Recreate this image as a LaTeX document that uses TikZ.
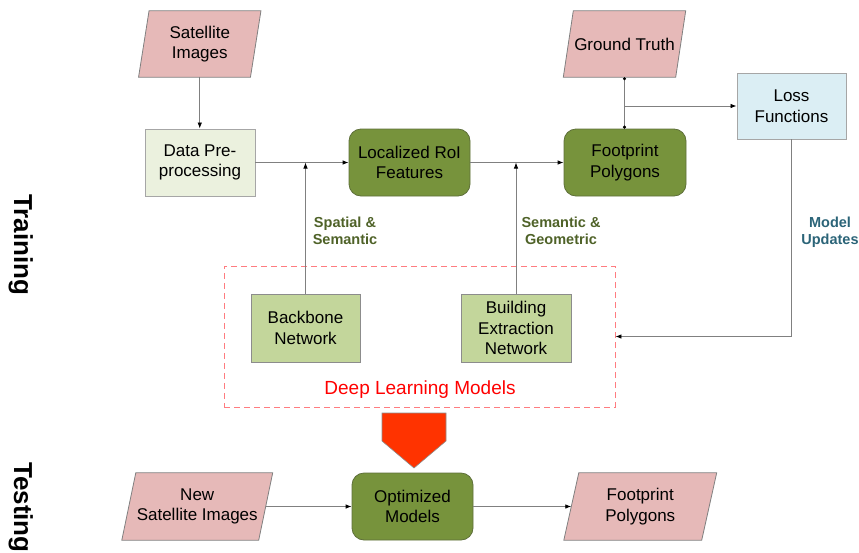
\documentclass[tikz,border=0pt]{standalone}
\usepackage{fontspec}
\setmainfont{Liberation Sans}
\usetikzlibrary{arrows.meta,calc}
\pgfdeclarelayer{background}
\pgfsetlayers{background,main}
\definecolor{cPink}{HTML}{E6B9B8}
\definecolor{cParaB}{HTML}{808080}
\definecolor{cLight}{HTML}{EBF1DE}
\definecolor{cLightB}{HTML}{A6A6A6}
\definecolor{cDark}{HTML}{77933C}
\definecolor{cDarkB}{HTML}{5E6F3A}
\definecolor{cMid}{HTML}{C3D69B}
\definecolor{cMidB}{HTML}{8C8C8C}
\definecolor{cBlue}{HTML}{DBEEF4}
\definecolor{cOlive}{HTML}{4F6228}
\definecolor{cTeal}{HTML}{2B6478}
\definecolor{cRedT}{HTML}{FF0000}
\definecolor{cDash}{HTML}{FF7C80}
\definecolor{cRedA}{HTML}{FF3300}
\definecolor{cLine}{HTML}{808080}
\newcommand\mkpara[2]{\begin{pgfonlayer}{background}\draw[paraB] ($(#1.south west)+(-#2,0)$) -- ($(#1.south east)+(-#2,0)$) -- ($(#1.north east)+(#2,0)$) -- ($(#1.north west)+(#2,0)$) -- cycle;\end{pgfonlayer}}
\tikzset{
  txt/.style={align=center, inner sep=0pt, font=\fontsize{17}{20.5}\selectfont},
  para/.style={txt, minimum height=66pt},
  paraB/.style={draw=cParaB, fill=cPink, line width=0.8pt},
  lbox/.style={txt, draw=cLightB, fill=cLight, line width=0.9pt, minimum height=67pt},
  dbox/.style={txt, draw=cDarkB, fill=cDark, line width=0.8pt, rounded corners=12pt, minimum height=67pt},
  gbox/.style={txt, draw=cMidB, fill=cMid, line width=0.8pt, minimum height=68pt},
  bbox/.style={txt, draw=cLightB, fill=cBlue, line width=0.9pt, minimum height=66pt},
  lab/.style={align=center, inner sep=0pt, font=\bfseries\fontsize{14.5}{17}\selectfont},
  side/.style={inner sep=0pt, rotate=-90, anchor=base west, font=\bfseries\fontsize{26}{30}\selectfont},
  conn/.style={draw=cLine, line width=0.8pt, -{Latex[length=6pt,width=4.5pt,color=black]}},
  plain/.style={draw=cLine, line width=0.8pt},
}
\begin{document}
\begin{tikzpicture}[x=1pt,y=-1pt]
\path[use as bounding box] (0,0) rectangle (859,552);

% side labels
\node[side] (tr) at (14,194) {Training};
\node[side] (te) at (14,462) {Testing};

% top row
\node[para, minimum width=111.5pt] (sat) at (199.75,44) {Satellite\\Images};
\mkpara{sat}{5.25}
\node[para, minimum width=112pt] (gt) at (624.5,44) {Ground Truth};
\mkpara{gt}{5}
\node[lbox, minimum width=110pt] (data) at (200,162.5) {Data Pre-\\processing};
\node[dbox, minimum width=121pt] (loc) at (409.5,162.5) {Localized RoI\\Features};
\node[dbox, minimum width=122pt] (fp) at (625,162.5) {Footprint\\Polygons};
\node[bbox, minimum width=109pt] (loss) at (791.5,106) {Loss\\Functions};

% deep learning models
\node[draw=cDash, dash pattern=on 6pt off 4pt, line width=0.9pt, minimum width=391pt, minimum height=141pt, inner sep=0pt] (dl) at (419.5,336.5) {};
\node[gbox, minimum width=109pt] (bb) at (305.5,328) {Backbone\\Network};
\node[gbox, minimum width=110pt] (bld) at (516,328) {Building\\Extraction\\Network};
\node[anchor=base, inner sep=0pt, text=cRedT, font=\fontsize{19}{22}\selectfont] (dlt) at (420,394) {Deep Learning Models};

% labels
\node[lab, text=cOlive] (l1) at (345,231) {Spatial \&\\Semantic};
\node[lab, text=cOlive] (l2) at (561,231) {Semantic \&\\Geometric};
\node[lab, text=cTeal] (l3) at (830,232) {Model\\Updates};

% big arrow
\draw[fill=cRedA, draw=cMidB, line width=0.6pt] (382,413) -- (446,413) -- (446,441) -- (414,468) -- (382,441) -- cycle;

% bottom row
\node[para, minimum width=136.5pt, minimum height=67pt] (nsat) at (197.25,506.5) {New\\Satellite Images};
\mkpara{nsat}{7}
\node[dbox, minimum width=121pt] (opt) at (412.5,506.5) {Optimized\\Models};
\node[para, minimum width=137.5pt, minimum height=67pt] (fpb) at (640.25,506.5) {Footprint\\Polygons};
\mkpara{fpb}{7.5}

% connectors
\draw[conn] (sat.south) -- (sat.south |- data.north);
\draw[conn] (data.east) -- (loc.west);
\draw[conn] (bb.north) -- (bb.north |- data.east);
\draw[conn] (loc.east) -- (fp.west);
\draw[conn] (bld.north) -- (bld.north |- loc.east);
\draw[plain, {Circle[length=3pt,color=black]}-{Circle[length=3pt,color=black]}] (gt.south) -- (gt.south |- fp.north);
\draw[conn] (gt.south |- loss.west) -- (loss.west);
\draw[conn] (loss.south) |- (dl.east);
\draw[conn] (nsat.east) -- (opt.west);
\draw[conn] (opt.east) -- (fpb.west);
\end{tikzpicture}
\end{document}
